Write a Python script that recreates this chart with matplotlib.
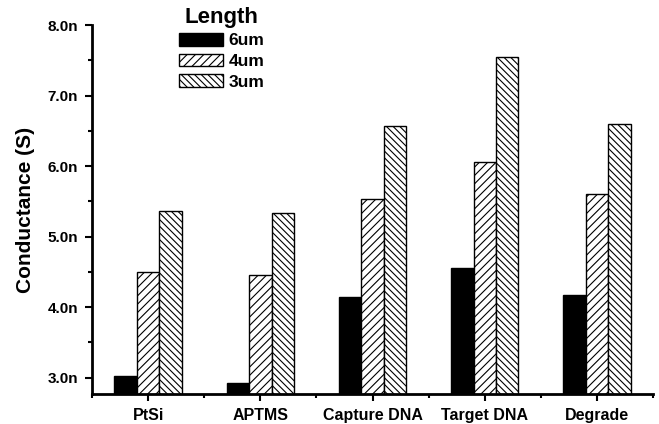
import matplotlib
matplotlib.use("Agg")
import matplotlib.pyplot as plt
from matplotlib.ticker import MultipleLocator, FuncFormatter, FixedLocator
from matplotlib.patches import Patch
import numpy as np

categories = ["PtSi", "APTMS", "Capture DNA", "Target DNA", "Degrade"]
series_names = ["6um", "4um", "3um"]
g_6um = [3.03, 2.92, 4.15, 4.56, 4.17]
g_4um = [4.50, 4.45, 5.53, 6.06, 5.60]
g_3um = [5.37, 5.34, 6.57, 7.54, 6.59]

plt.rcParams['font.family'] = ['Liberation Sans', 'DejaVu Sans']
plt.rcParams['font.weight'] = 'bold'
plt.rcParams['hatch.linewidth'] = 0.8

fig = plt.figure(figsize=(6.59, 4.24), dpi=100)
ax = fig.add_axes([0.1396, 0.0708, 0.8514, 0.8702])

x = np.arange(len(categories))
w = 0.2
hatches = [None, '////', '\\\\\\\\\\']
faces = ['black', 'white', 'white']
for i, vals in enumerate([g_6um, g_4um, g_3um]):
    ax.bar(x + (i - 1) * w, vals, w, facecolor=faces[i], edgecolor='black',
           hatch=hatches[i], linewidth=1.0, label=series_names[i])

ax.set_xlim(-0.5, 4.5)
ax.set_ylim(2.77, 8.0)
ax.spines['top'].set_visible(False)
ax.spines['right'].set_visible(False)
ax.spines['left'].set_linewidth(2)
ax.spines['bottom'].set_linewidth(2)

ax.set_xticks(x)
ax.set_xticklabels(categories, fontsize=11.5, fontweight='bold')
ax.xaxis.set_minor_locator(FixedLocator(np.arange(-0.5, 4.6, 1.0)))
ax.yaxis.set_major_locator(MultipleLocator(1.0))
ax.yaxis.set_minor_locator(MultipleLocator(0.5))
ax.yaxis.set_major_formatter(FuncFormatter(lambda v, p: f"{v:.1f}n"))
ax.tick_params(axis='both', which='major', direction='out', length=5, width=1.5)
ax.tick_params(axis='y', which='major', labelsize=11, pad=5)
ax.tick_params(axis='both', which='minor', direction='out', length=3, width=1.5)
ax.tick_params(axis='x', which='major', pad=5)
for lab in ax.get_yticklabels():
    lab.set_fontweight('bold')
ax.set_ylabel("Conductance (S)", fontsize=15, fontweight='bold', labelpad=9)

handles = [Patch(facecolor=faces[i], edgecolor='black', hatch=hatches[i], label=series_names[i])
           for i in range(3)]
leg = ax.legend(handles=handles, title="Length", loc='upper left', bbox_to_anchor=(0.143, 1.068),
                frameon=False, prop={'size': 12.5, 'weight': 'bold'},
                title_fontproperties={'weight': 'bold', 'size': 16},
                handlelength=2.5, handleheight=0.75, handletextpad=0.35, labelspacing=0.3,
                borderaxespad=0)

plt.savefig("out.png", dpi=100)
